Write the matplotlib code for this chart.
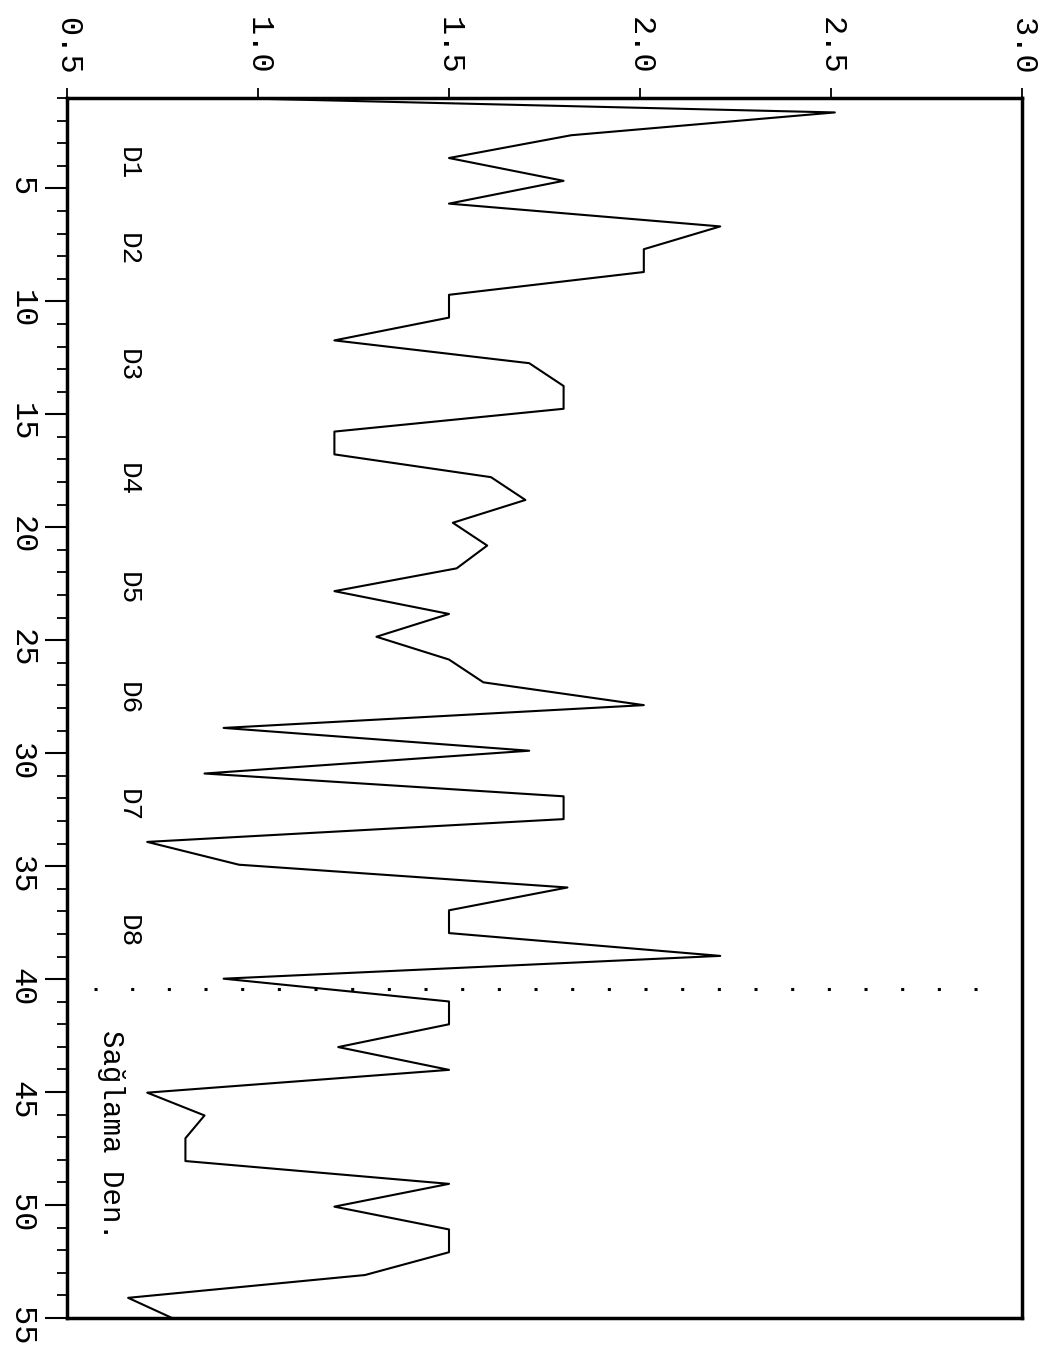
import numpy as np
import matplotlib.pyplot as plt

plt.rcParams['font.family'] = ['Liberation Mono', 'DejaVu Sans Mono']

# sample positions along the profile (first and last lie just outside the frame)
sample_pos = 0.63 + 1.009 * np.arange(55)
values = [0.00, 2.51, 1.82, 1.50, 1.80, 1.50, 2.21, 2.01, 2.01, 1.50,
          1.50, 1.20, 1.71, 1.80, 1.80, 1.20, 1.20, 1.61, 1.70, 1.51,
          1.60, 1.52, 1.20, 1.50, 1.31, 1.50, 1.59, 2.01, 0.91, 1.71,
          0.86, 1.80, 1.80, 0.71, 0.95, 1.81, 1.50, 1.50, 2.21, 0.91,
          1.50, 1.50, 1.21, 1.50, 0.71, 0.86, 0.81, 0.81, 1.50, 1.20,
          1.50, 1.50, 1.28, 0.66, 0.79]

group_names = ['D1', 'D2', 'D3', 'D4', 'D5', 'D6', 'D7', 'D8']
group_pos = [3.9, 7.7, 12.85, 17.9, 22.7, 27.6, 32.3, 37.9]
control_name = 'Sağlama Den.'
control_pos = 46.9
split_pos = 40.45

value_ticks = [0.5, 1.0, 1.5, 2.0, 2.5, 3.0]
index_ticks = list(range(5, 56, 5))

fig = plt.figure(figsize=(10.53, 13.52), dpi=100)
ax = fig.add_axes([67 / 1053, 1 - 1318 / 1352, (1022 - 67) / 1053, (1318 - 98) / 1352])

ax.plot(values, sample_pos, color='black', lw=1.5)
ax.plot([0.57, 2.95], [split_pos, split_pos], color='black', lw=2.2,
        linestyle=(0, (1, 11)))

for name, p in zip(group_names, group_pos):
    ax.text(0.66, p, name, rotation=-90, ha='center', va='center', fontsize=20)
ax.text(0.615, control_pos, control_name, rotation=-90, ha='center', va='center',
        fontsize=21)

ax.set_xlim(0.5, 3.0)
ax.set_ylim(55, 1)
ax.xaxis.tick_top()
ax.set_xticks(value_ticks)
ax.set_xticklabels([f'{v:.1f}' for v in value_ticks], rotation=-90, fontsize=23)
ax.set_yticks(index_ticks)
ax.set_yticks(range(1, 56), minor=True)
ax.set_yticklabels([str(v) for v in index_ticks], rotation=-90, fontsize=23)
ax.tick_params(axis='x', direction='out', length=7, width=1.3, pad=10)
ax.tick_params(axis='y', which='major', direction='out', length=16, width=1.5, pad=6)
ax.tick_params(axis='y', which='minor', direction='out', length=7, width=1.3)
for s in ax.spines.values():
    s.set_linewidth(2.5)

fig.savefig('out.png', dpi=100)
